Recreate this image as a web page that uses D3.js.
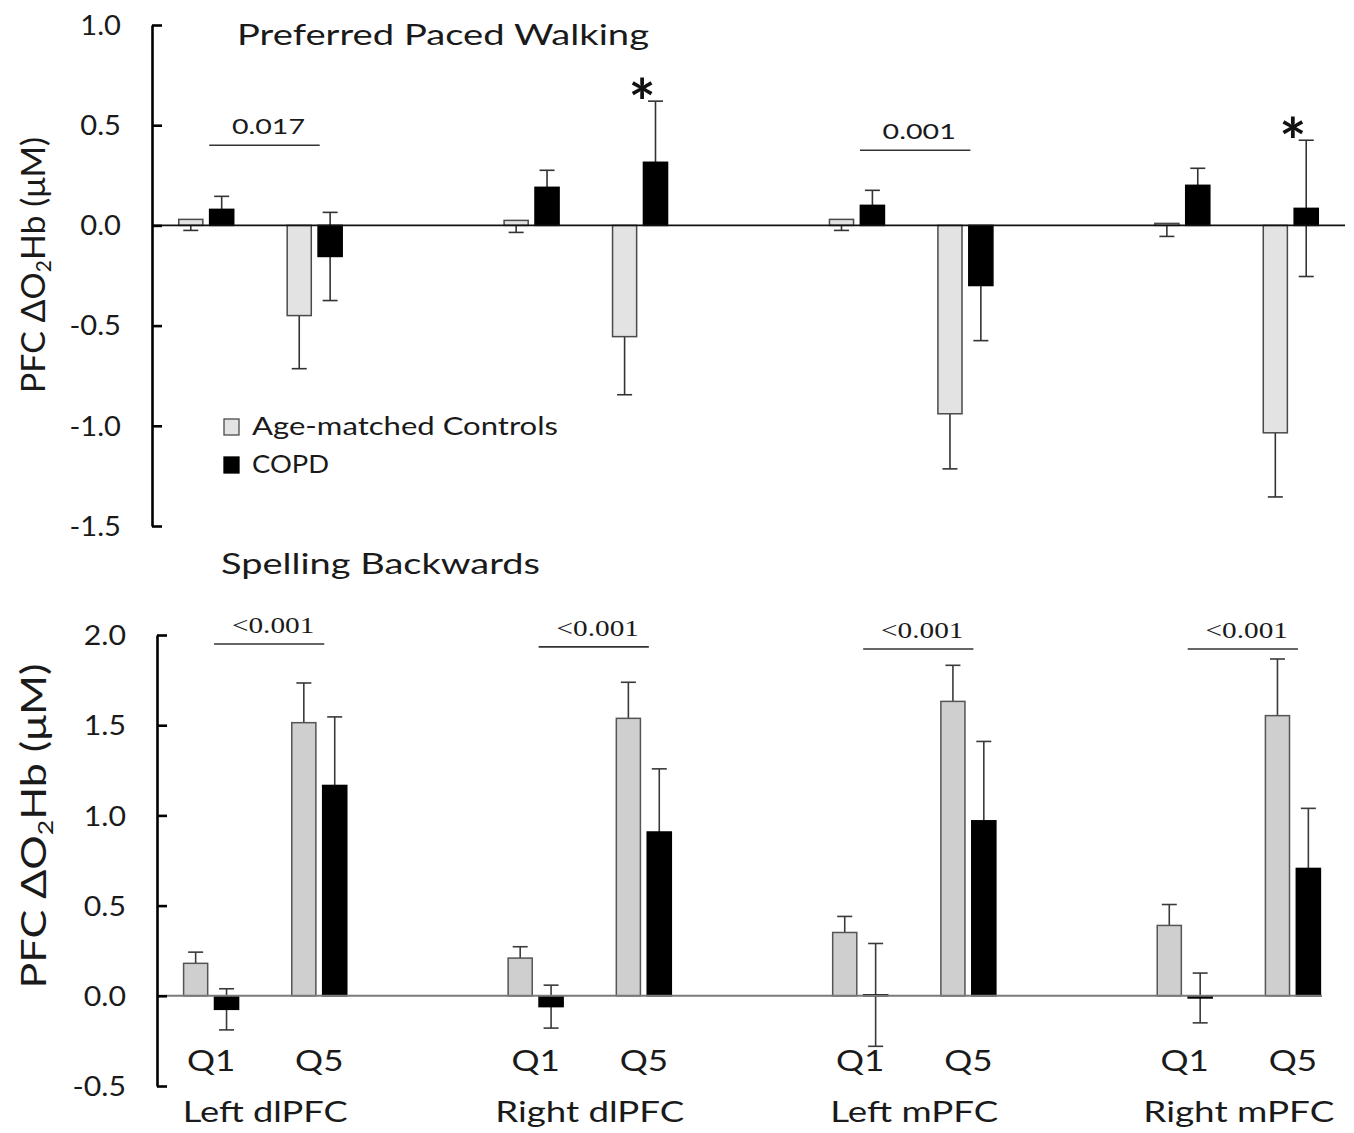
<!DOCTYPE html>
<html><head><meta charset="utf-8">
<script src="https://cdn.jsdelivr.net/npm/d3@7"></script>
<style>
body{margin:0;background:#fff;}
svg{display:block;font-family:Lato,"Open Sans",sans-serif;}
</style></head><body>
<svg id="chart" width="1354" height="1133"></svg>
<script>
// ---------- data ----------
const regions = ["Left dlPFC", "Right dlPFC", "Left mPFC", "Right mPFC"];
const quintiles = ["Q1", "Q5"];
const seriesNames = ["Age-matched Controls", "COPD"];

// Preferred Paced Walking (order: region × [Q1, Q5])
const walkControl    = [0.03, -0.45, 0.025, -0.555, 0.03, -0.94, 0.01, -1.035];
const walkControlErr = [0.055, 0.265, 0.06, 0.29, 0.055, 0.275, 0.065, 0.32];
const walkCOPD       = [0.08, -0.155, 0.19, 0.315, 0.10, -0.30, 0.20, 0.085];
const walkCOPDErr    = [0.065, 0.22, 0.085, 0.305, 0.075, 0.275, 0.085, 0.34];
const walkTicks      = [-1.5, -1.0, -0.5, 0.0, 0.5, 1.0];
const walkPText      = ["0.017", "", "0.001", ""];
const walkPLevel     = [0.40, null, 0.375, null];
const walkStar       = [false, true, false, true];

// Spelling Backwards
const spellControl    = [0.18, 1.514, 0.209, 1.538, 0.351, 1.632, 0.39, 1.553];
const spellControlErr = [0.062, 0.22, 0.063, 0.20, 0.089, 0.20, 0.116, 0.314];
const spellCOPD       = [-0.075, 1.166, -0.06, 0.908, 0.005, 0.97, -0.012, 0.706];
const spellCOPDErr    = [0.114, 0.38, 0.119, 0.35, 0.285, 0.44, 0.138, 0.333];
const spellTicks      = [-0.5, 0.0, 0.5, 1.0, 1.5, 2.0];
const spellPText      = ["<0.001", "<0.001", "<0.001", "<0.001"];
const spellPLevel     = [1.95, 1.934, 1.922, 1.922];

// ---------- helpers ----------
const svg = d3.select("#chart");
const categories = [];
regions.forEach((r, i) => {
  quintiles.forEach(q => categories.push(r + "|" + q));
  if (i < regions.length - 1) categories.push("gap" + i);
});

function stretch(sel, k) {
  sel.each(function () {
    const w = this.getComputedTextLength();
    d3.select(this).attr("textLength", w * k).attr("lengthAdjust", "spacingAndGlyphs");
  });
}
function fitW(sel, w) {
  sel.attr("textLength", w).attr("lengthAdjust", "spacingAndGlyphs");
}

function drawPanel(cfg) {
  const g = svg.append("g");
  const y = d3.scaleLinear().domain(cfg.yDomain).range(cfg.yRange);
  const x0 = d3.scaleBand().domain(categories).range(cfg.xRange);
  const groupW = 55;
  const x1 = d3.scaleBand().domain(seriesNames).range([0, groupW]).paddingInner(0.22);
  const catC = c => x0(c) + x0.bandwidth() / 2;

  const rows = [];
  regions.forEach((r, i) => quintiles.forEach((q, j) => {
    const idx = i * 2 + j;
    rows.push({cat: r + "|" + q, s: seriesNames[0], v: cfg.ctrl[idx], e: cfg.ctrlErr[idx], mode: cfg.ctrlErrMode});
    rows.push({cat: r + "|" + q, s: seriesNames[1], v: cfg.copd[idx], e: cfg.copdErr[idx], mode: "both"});
  }));
  const bx = d => x0(d.cat) + (x0.bandwidth() - groupW) / 2 + x1(d.s);
  const bc = d => bx(d) + x1.bandwidth() / 2;

  // error bars (drawn behind bars)
  const cap = 15;
  const eg = g.append("g").attr("stroke", cfg.errColor).attr("stroke-width", 1.6);
  rows.forEach(d => {
    const lo = d.v - d.e, hi = d.mode === "minus" ? d.v : d.v + d.e;
    eg.append("line").attr("x1", bc(d)).attr("x2", bc(d)).attr("y1", y(lo)).attr("y2", y(hi));
    eg.append("line").attr("x1", bc(d) - cap / 2).attr("x2", bc(d) + cap / 2).attr("y1", y(lo)).attr("y2", y(lo));
    if (d.mode !== "minus")
      eg.append("line").attr("x1", bc(d) - cap / 2).attr("x2", bc(d) + cap / 2).attr("y1", y(hi)).attr("y2", y(hi));
  });

  // bars
  g.append("g").selectAll("rect").data(rows).join("rect")
    .attr("x", bx)
    .attr("width", x1.bandwidth())
    .attr("y", d => y(Math.max(0, d.v)))
    .attr("height", d => Math.abs(y(d.v) - y(0)))
    .attr("fill", d => d.s === seriesNames[0] ? cfg.ctrlFill : "#000")
    .attr("stroke", d => d.s === seriesNames[0] ? cfg.ctrlStroke : "#000")
    .attr("stroke-width", 1.5);

  // zero line
  g.append("line").attr("x1", cfg.xRange[0]).attr("x2", cfg.zeroEnd)
    .attr("y1", y(0)).attr("y2", y(0))
    .attr("stroke", cfg.zeroColor).attr("stroke-width", cfg.zeroWidth);

  // axis
  const ax = g.append("g").attr("transform", `translate(${cfg.xRange[0]},0)`)
    .call(d3.axisLeft(y).tickValues(cfg.ticks).tickSize(-10).tickSizeOuter(0).tickPadding(31)
      .tickFormat(d => d.toFixed(1)));
  ax.select(".domain").attr("stroke", "#000").attr("stroke-width", 2.6);
  ax.selectAll(".tick line").attr("stroke", "#000").attr("stroke-width", 2.6);
  ax.selectAll(".tick text").attr("font-family", "Lato").attr("font-size", cfg.tickSize).attr("fill", "#1a1a1a")
    .attr("dy", "0.36em");
  stretch(ax.selectAll(".tick text"), 1.12);

  // p-value annotations
  regions.forEach((r, i) => {
    if (!cfg.pText[i]) return;
    const xa = catC(r + "|Q1"), xb = catC(r + "|Q5");
    const ly = y(cfg.pLevel[i]);
    g.append("line").attr("x1", xa + 3).attr("x2", xb + 5).attr("y1", ly).attr("y2", ly)
      .attr("stroke", "#333").attr("stroke-width", 1.6);
    const t = g.append("text").attr("x", (xa + xb) / 2 + 8).attr("y", ly - 11)
      .attr("text-anchor", "middle").attr("font-family", cfg.pFont).attr("font-size", cfg.pSize)
      .attr("fill", "#1a1a1a").text(cfg.pText[i]);
    stretch(t, cfg.pK);
  });

  // significance stars
  if (cfg.star) regions.forEach((r, i) => {
    if (!cfg.star[i]) return;
    const d = rows.find(o => o.cat === r + "|Q5" && o.s === seriesNames[1]);
    svg.append("text").attr("x", catC(d.cat) + 2).attr("y", y(d.v + d.e) + 25)
      .attr("text-anchor", "middle").attr("font-family", "Lato").attr("font-weight", 700)
      .attr("font-size", 64).attr("fill", "#111").text("*");
  });

  // y-axis label
  const yl = svg.append("text")
    .attr("transform", `translate(${cfg.labelX},${cfg.labelY}) rotate(-90)`)
    .attr("text-anchor", "middle").attr("font-family", "Lato").attr("font-size", cfg.labelSize)
    .attr("fill", "#1a1a1a");
  yl.append("tspan").text("PFC ΔO");
  yl.append("tspan").attr("font-size", cfg.labelSize * 0.62).attr("dy", "0.3em").text("2");
  yl.append("tspan").attr("dy", "-0.18em").text("Hb (μM)");
  fitW(yl, cfg.labelLen);

  return {x0, catC};
}

// ---------- top panel ----------
drawPanel({
  ctrl: walkControl, ctrlErr: walkControlErr, copd: walkCOPD, copdErr: walkCOPDErr,
  yDomain: [-1.5, 1.0], yRange: [526, 25], ticks: walkTicks, tickSize: 26,
  xRange: [152, 1345], zeroEnd: 1345,
  ctrlFill: "#e3e3e3", ctrlStroke: "#4a4a4a", ctrlErrMode: "minus", errColor: "#333",
  zeroColor: "#111", zeroWidth: 1.6,
  pText: walkPText, pLevel: walkPLevel, pFont: "Lato", pSize: 22, pK: 1.3,
  star: walkStar,
  labelX: 45, labelY: 265, labelSize: 33, labelLen: 256
});

// ---------- bottom panel ----------
const bottom = drawPanel({
  ctrl: spellControl, ctrlErr: spellControlErr, copd: spellCOPD, copdErr: spellCOPDErr,
  yDomain: [-0.5, 2.0], yRange: [1086, 635], ticks: spellTicks, tickSize: 27,
  xRange: [157, 1347], zeroEnd: 1322,
  ctrlFill: "#cfcfcf", ctrlStroke: "#555", ctrlErrMode: "both", errColor: "#3a3a3a",
  zeroColor: "#7a7a7a", zeroWidth: 2,
  pText: spellPText, pLevel: spellPLevel, pFont: "Liberation Serif", pSize: 24, pK: 1.22,
  star: null,
  labelX: 46, labelY: 826, labelSize: 35, labelLen: 325
});

// ---------- titles ----------
fitW(svg.append("text").attr("x", 237).attr("y", 45).attr("font-size", 28).attr("fill", "#1a1a1a")
  .text("Preferred Paced Walking"), 412);
fitW(svg.append("text").attr("x", 221).attr("y", 574).attr("font-size", 28).attr("fill", "#1a1a1a")
  .text("Spelling Backwards"), 319);

// ---------- legend ----------
const legendFill = ["#e3e3e3", "#000"];
const legendStroke = ["#4a4a4a", "#000"];
const legendW = [306, 77];
seriesNames.forEach((s, i) => {
  const yy = 419 + i * 38;
  svg.append("rect").attr("x", 224).attr("y", yy).attr("width", 15).attr("height", 16)
    .attr("fill", legendFill[i]).attr("stroke", legendStroke[i]).attr("stroke-width", 1.3);
  fitW(svg.append("text").attr("x", 252).attr("y", yy + 16).attr("font-size", 25).attr("fill", "#1a1a1a")
    .text(s), legendW[i]);
});

// ---------- category labels ----------
const regionW = [165, 189, 168, 191];
regions.forEach((r, i) => {
  quintiles.forEach(q => {
    const t = svg.append("text").attr("x", bottom.catC(r + "|" + q)).attr("y", 1071)
      .attr("text-anchor", "middle").attr("font-size", 28).attr("fill", "#1a1a1a").text(q);
    stretch(t, 1.25);
  });
  const cx = (bottom.catC(r + "|Q1") + bottom.catC(r + "|Q5")) / 2;
  fitW(svg.append("text").attr("x", cx).attr("y", 1122).attr("text-anchor", "middle")
    .attr("font-size", 29).attr("fill", "#1a1a1a").text(r), regionW[i]);
});
</script>
</body></html>
